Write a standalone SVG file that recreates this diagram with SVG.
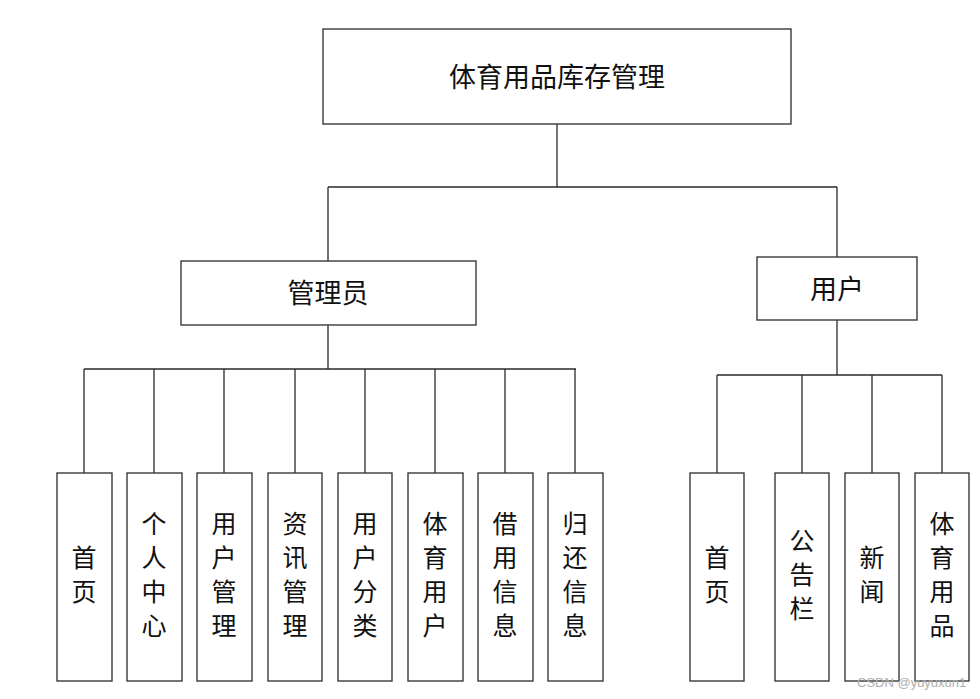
<svg xmlns="http://www.w3.org/2000/svg" width="980" height="699" viewBox="0 0 980 699">
<style>
.box{fill:#fff;stroke:#3a3a3a;stroke-width:1.4}
.ln{fill:none;stroke:#2a2a2a;stroke-width:1.3}
.t{font-family:"Noto Sans CJK SC","Noto Sans CJK JP",sans-serif;font-size:25px;fill:#111;text-anchor:middle;dominant-baseline:central}
.h{font-size:27px}
.wm{font-family:"Liberation Sans",Arial,sans-serif;font-size:13px;fill:#b0b0b0}
</style>
<rect width="980" height="699" fill="#fff"/>
<g id="connectors" class="ln">
<path d="M557,124V187M328,187H837M328,187V261M837,187V257"/>
<path d="M328,325V369M84,369H576M84,369V473M154,369V473M224,369V473M295,369V473M365,369V473M435,369V473M505,369V473M575,369V473"/>
<path d="M837,320V375M717,375H942M717,375V473M802,375V473M872,375V473M942,375V473"/>
</g>
<g id="root"><rect class="box" x="323" y="29" width="468" height="95"/><text class="t h" x="557" y="75">体育用品库存管理</text></g>
<g id="admin"><rect class="box" x="181" y="261" width="295" height="64"/><text class="t h" x="328" y="291">管理员</text></g>
<g id="user"><rect class="box" x="757" y="257" width="160" height="63"/><text class="t h" x="837" y="287">用户</text></g>
<g id="a1"><rect class="box" x="57" y="473" width="55" height="208"/><text class="t" x="84" y="556">首</text><text class="t" x="84" y="590">页</text></g>
<g id="a2"><rect class="box" x="127" y="473" width="55" height="208"/><text class="t" x="154" y="522">个</text><text class="t" x="154" y="556">人</text><text class="t" x="154" y="590">中</text><text class="t" x="154" y="624">心</text></g>
<g id="a3"><rect class="box" x="197" y="473" width="55" height="208"/><text class="t" x="224" y="522">用</text><text class="t" x="224" y="556">户</text><text class="t" x="224" y="590">管</text><text class="t" x="224" y="624">理</text></g>
<g id="a4"><rect class="box" x="268" y="473" width="54" height="208"/><text class="t" x="295" y="522">资</text><text class="t" x="295" y="556">讯</text><text class="t" x="295" y="590">管</text><text class="t" x="295" y="624">理</text></g>
<g id="a5"><rect class="box" x="338" y="473" width="54" height="208"/><text class="t" x="365" y="522">用</text><text class="t" x="365" y="556">户</text><text class="t" x="365" y="590">分</text><text class="t" x="365" y="624">类</text></g>
<g id="a6"><rect class="box" x="408" y="473" width="55" height="208"/><text class="t" x="435" y="522">体</text><text class="t" x="435" y="556">育</text><text class="t" x="435" y="590">用</text><text class="t" x="435" y="624">户</text></g>
<g id="a7"><rect class="box" x="478" y="473" width="55" height="208"/><text class="t" x="505" y="522">借</text><text class="t" x="505" y="556">用</text><text class="t" x="505" y="590">信</text><text class="t" x="505" y="624">息</text></g>
<g id="a8"><rect class="box" x="548" y="473" width="55" height="208"/><text class="t" x="575" y="522">归</text><text class="t" x="575" y="556">还</text><text class="t" x="575" y="590">信</text><text class="t" x="575" y="624">息</text></g>
<g id="u1"><rect class="box" x="690" y="473" width="54" height="208"/><text class="t" x="717" y="556">首</text><text class="t" x="717" y="590">页</text></g>
<g id="u2"><rect class="box" x="775" y="473" width="54" height="208"/><text class="t" x="802" y="539">公</text><text class="t" x="802" y="573">告</text><text class="t" x="802" y="607">栏</text></g>
<g id="u3"><rect class="box" x="845" y="473" width="54" height="208"/><text class="t" x="872" y="556">新</text><text class="t" x="872" y="590">闻</text></g>
<g id="u4"><rect class="box" x="915" y="473" width="54" height="208"/><text class="t" x="942" y="522">体</text><text class="t" x="942" y="556">育</text><text class="t" x="942" y="590">用</text><text class="t" x="942" y="624">品</text></g>
<text class="wm" x="857" y="687">CSDN @yuyuxun1</text>
</svg>
